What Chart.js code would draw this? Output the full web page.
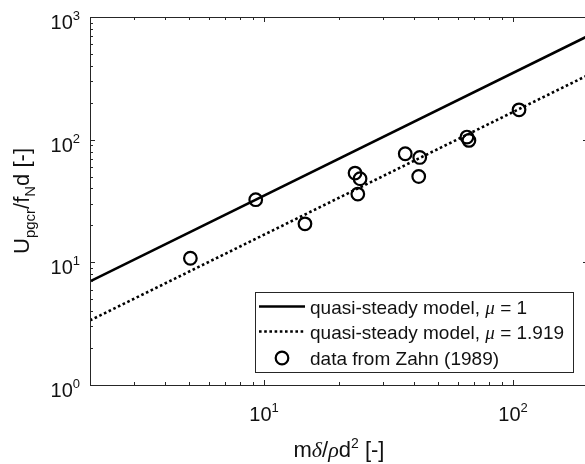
<!DOCTYPE html>
<html>
<head>
<meta charset="utf-8">
<script src="https://cdn.jsdelivr.net/npm/chart.js@4/dist/chart.umd.min.js"></script>
<style>
  html, body { margin: 0; padding: 0; background: #fff; overflow: hidden; }
  #wrap { width: 585px; height: 464px; overflow: hidden; }
</style>
</head>
<body>
<div id="wrap"><canvas id="chart" width="588" height="464"></canvas></div>
<script>
"use strict";

// data from Zahn (1989)
const zahnX = [5.06, 9.26, 14.6, 23.2, 24.3, 23.8, 36.9, 42.2, 41.8, 65.3, 66.5, 105.7];
const zahnY = [10.8, 32.4, 20.6, 53.4, 48.0, 36.0, 76.8, 71.6, 50.1, 105, 98.6, 175];

// quasi-steady model lines (end points)
const modelX = [2, 200];
const modelMu1Y = [7, 700];
const modelMu1919Y = [3.36, 336];

const xMajor = [10, 100];
const xMinor = [2, 3, 4, 5, 6, 7, 8, 9, 20, 30, 40, 50, 60, 70, 80, 90, 200];
const yMajor = [1, 10, 100, 1000];
const yMinor = [2, 3, 4, 5, 6, 7, 8, 9, 20, 30, 40, 50, 60, 70, 80, 90, 200, 300, 400, 500, 600, 700, 800, 900];

const legendLabels = [
  [{ t: 'quasi-steady model, ' }, { t: 'μ', greek: true }, { t: ' = 1' }],
  [{ t: 'quasi-steady model, ' }, { t: 'μ', greek: true }, { t: ' = 1.919' }],
  [{ t: 'data from Zahn (1989)' }],
];

const INK = '#262626';
const SANS = '"Liberation Sans", Arial, sans-serif';
const SERIF = '"Liberation Serif", "DejaVu Serif", serif';

function pts(xs, ys) {
  return xs.map((x, i) => ({ x: x, y: ys[i] }));
}

// text made of pieces with their own font and baseline shift
function runWidth(ctx, parts) {
  let w = 0;
  parts.forEach(p => { ctx.font = p.font; w += ctx.measureText(p.t).width; });
  return w;
}
function drawRun(ctx, parts, x, y) {
  parts.forEach(p => {
    ctx.font = p.font;
    ctx.fillText(p.t, x, y + (p.dy || 0));
    x += ctx.measureText(p.t).width;
  });
}
function powerLabel(exp) {
  return [
    { t: '10', font: '20px ' + SANS },
    { t: String(exp), font: '13px ' + SANS, dy: -9 },
  ];
}

const frame = {
  id: 'frame',
  afterDatasetsDraw(chart) {
    const ctx = chart.ctx;
    const a = chart.chartArea;
    const sx = chart.scales.x, sy = chart.scales.y;
    ctx.save();
    ctx.strokeStyle = INK;
    ctx.lineWidth = 1;
    ctx.strokeRect(a.left + 0.5, a.top + 0.5, a.right - a.left - 1, a.bottom - a.top);

    ctx.beginPath();
    const tick = (v, len, axis) => {
      if (axis === 'x') {
        const px = Math.round(sx.getPixelForValue(v)) + 0.5;
        ctx.moveTo(px, a.bottom); ctx.lineTo(px, a.bottom - len);
        ctx.moveTo(px, a.top); ctx.lineTo(px, a.top + len);
      } else {
        const py = Math.round(sy.getPixelForValue(v)) + 0.5;
        ctx.moveTo(a.left, py); ctx.lineTo(a.left + len, py);
        ctx.moveTo(a.right, py); ctx.lineTo(a.right - len, py);
      }
    };
    xMajor.forEach(v => tick(v, 5, 'x'));
    xMinor.forEach(v => tick(v, 3, 'x'));
    yMajor.forEach(v => tick(v, 5, 'y'));
    yMinor.forEach(v => tick(v, 3, 'y'));
    ctx.stroke();

    // tick labels
    ctx.fillStyle = '#111';
    ctx.textBaseline = 'alphabetic';
    ctx.textAlign = 'left';
    yMajor.forEach(v => {
      const parts = powerLabel(Math.round(Math.log10(v)));
      const w = runWidth(ctx, parts);
      drawRun(ctx, parts, a.left - 10 - w, sy.getPixelForValue(v) + 12);
    });
    xMajor.forEach(v => {
      const parts = powerLabel(Math.round(Math.log10(v)));
      const w = runWidth(ctx, parts);
      drawRun(ctx, parts, sx.getPixelForValue(v) - w / 2, a.bottom + 36);
    });

    // x title: m delta / rho d^2 [-]
    const xt = [
      { t: 'm', font: '22px ' + SANS },
      { t: 'δ', font: 'italic 22px ' + SERIF },
      { t: '/', font: '22px ' + SANS },
      { t: 'ρ', font: 'italic 22px ' + SERIF },
      { t: 'd', font: '22px ' + SANS },
      { t: '2', font: '14px ' + SANS, dy: -9 },
      { t: ' [-]', font: '22px ' + SANS },
    ];
    const xw = runWidth(ctx, xt);
    drawRun(ctx, xt, (a.left + a.right) / 2 - xw / 2, 457);

    // y title: U_pgcr / f_N d [-]
    const yt = [
      { t: 'U', font: '22px ' + SANS },
      { t: 'pgcr', font: '15px ' + SANS, dy: 6 },
      { t: '/f', font: '22px ' + SANS },
      { t: 'N', font: '15px ' + SANS, dy: 6 },
      { t: 'd [-]', font: '22px ' + SANS },
    ];
    const yw = runWidth(ctx, yt);
    ctx.save();
    ctx.translate(29, (a.top + a.bottom) / 2);
    ctx.rotate(-Math.PI / 2);
    drawRun(ctx, yt, -yw / 2, 0);
    ctx.restore();

    // legend box
    const lw = 318, lh = 80;
    const lx = 255, ly = a.bottom - 13 - lh;
    ctx.fillStyle = '#fff';
    ctx.fillRect(lx, ly, lw, lh);
    ctx.strokeStyle = INK;
    ctx.lineWidth = 1;
    ctx.strokeRect(Math.round(lx) + 0.5, Math.round(ly) + 0.5, lw, lh);
    const rows = [14.5, 39.5, 66];
    chart.data.datasets.forEach((ds, i) => {
      const cy = ly + rows[i];
      ctx.save();
      ctx.strokeStyle = ds.borderColor;
      ctx.lineWidth = ds.borderWidth;
      if (ds.showLine) {
        ctx.setLineDash(ds.borderDash || []);
        ctx.beginPath();
        ctx.moveTo(lx + 4, cy);
        ctx.lineTo(lx + 50, cy);
        ctx.stroke();
      } else {
        ctx.beginPath();
        ctx.arc(lx + 27, cy, ds.pointRadius, 0, Math.PI * 2);
        ctx.stroke();
      }
      ctx.restore();
      ctx.fillStyle = '#111';
      const parts = legendLabels[i].map(p => ({
        t: p.t,
        font: p.greek ? 'italic 19px ' + SERIF : '19px ' + SANS,
      }));
      drawRun(ctx, parts, lx + 55, cy + 7);
    });
    ctx.restore();
  }
};

new Chart(document.getElementById('chart'), {
  type: 'scatter',
  data: {
    datasets: [
      {
        label: 'quasi-steady model, mu = 1',
        data: pts(modelX, modelMu1Y),
        showLine: true,
        borderColor: '#000',
        borderWidth: 2.6,
        pointRadius: 0,
      },
      {
        label: 'quasi-steady model, mu = 1.919',
        data: pts(modelX, modelMu1919Y),
        showLine: true,
        borderColor: '#000',
        borderWidth: 2.6,
        borderDash: [2.6, 2.6],
        pointRadius: 0,
      },
      {
        label: 'data from Zahn (1989)',
        data: pts(zahnX, zahnY),
        showLine: false,
        borderColor: '#000',
        backgroundColor: 'rgba(0,0,0,0)',
        borderWidth: 2.2,
        pointRadius: 6.3,
        pointStyle: 'circle',
      },
    ],
  },
  options: {
    responsive: false,
    animation: false,
    devicePixelRatio: 1,
    layout: { autoPadding: false, padding: { left: 90, top: 17, right: 0, bottom: 79 } },
    plugins: { legend: { display: false }, tooltip: { enabled: false } },
    scales: {
      x: { type: 'logarithmic', min: 2, max: 200, display: false },
      y: { type: 'logarithmic', min: 1, max: 1000, display: false },
    },
  },
  plugins: [frame],
});
</script>
</body>
</html>
